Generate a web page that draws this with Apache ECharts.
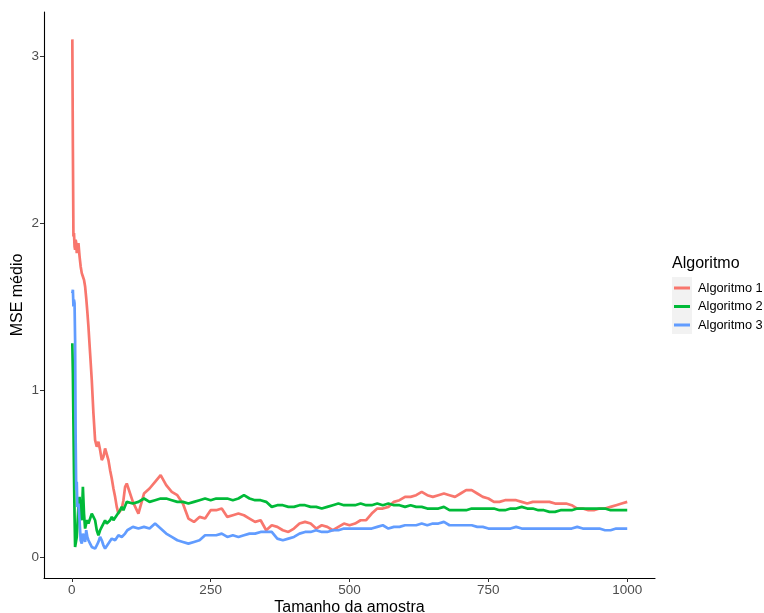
<!DOCTYPE html>
<html>
<head>
<meta charset="utf-8">
<title>MSE médio por tamanho da amostra</title>
<script src="https://cdn.jsdelivr.net/npm/echarts@6/dist/echarts.min.js"></script>
<style>
  html, body { margin: 0; padding: 0; background: #fff; }
  #chart { width: 764px; height: 613px; }
</style>
</head>
<body>
<div id="chart"></div>
<script>
// Sample sizes at which the running mean MSE was recorded
const sampleSize = [
  1, 2, 3, 4, 5, 6, 7, 8, 9, 10,
  12, 14, 16, 18, 20, 22, 24, 26, 28, 30,
  33, 36, 39, 42, 45, 48, 51, 54, 57, 60, 63, 66, 69, 72, 75, 78, 81, 84, 87, 90, 93, 96, 99,
  100, 110, 120, 130, 140, 150, 160, 170, 180, 190,
  200, 210, 220, 230, 240, 250, 260, 270, 280, 290,
  300, 310, 320, 330, 340, 350, 360, 370, 380, 390,
  400, 410, 420, 430, 440, 450, 460, 470, 480, 490,
  500, 510, 520, 530, 540, 550, 560, 570, 580, 590,
  600, 610, 620, 630, 640, 650, 660, 670, 680, 690,
  700, 710, 720, 730, 740, 750, 760, 770, 780, 790,
  800, 810, 820, 830, 840, 850, 860, 870, 880, 890,
  900, 910, 920, 930, 940, 950, 960, 970, 980, 990,
  1000
];

const algoritmo1 = [
  3.10, 2.45, 1.92, 1.94, 1.86, 1.84, 1.90, 1.88, 1.82, 1.84,
  1.88, 1.80, 1.74, 1.70, 1.68, 1.66, 1.62, 1.55, 1.47, 1.38,
  1.22, 1.06, 0.86, 0.70, 0.66, 0.69, 0.64, 0.58, 0.60, 0.65, 0.66, 0.58, 0.52, 0.47, 0.41, 0.36, 0.30, 0.26, 0.25, 0.29, 0.34, 0.42, 0.44,
  0.43, 0.33, 0.26, 0.38, 0.41, 0.45, 0.49, 0.43, 0.39, 0.37,
  0.32, 0.23, 0.21, 0.24, 0.23, 0.28, 0.28, 0.29, 0.24, 0.25,
  0.26, 0.25, 0.23, 0.21, 0.22, 0.16, 0.19, 0.18, 0.16, 0.15,
  0.17, 0.20, 0.21, 0.20, 0.17, 0.19, 0.18, 0.16, 0.18, 0.20,
  0.19, 0.20, 0.22, 0.22, 0.26, 0.29, 0.29, 0.30, 0.33, 0.34,
  0.36, 0.36, 0.37, 0.39, 0.37, 0.36, 0.37, 0.38, 0.37, 0.36,
  0.38, 0.40, 0.40, 0.38, 0.36, 0.35, 0.33, 0.33, 0.34, 0.34,
  0.34, 0.33, 0.32, 0.33, 0.33, 0.33, 0.33, 0.32, 0.32, 0.32,
  0.31, 0.29, 0.29, 0.28, 0.28, 0.29, 0.29, 0.30, 0.31, 0.32,
  0.33
];

const algoritmo2 = [
  1.28, 1.10, 0.80, 0.50, 0.25, 0.06, 0.05, 0.10, 0.12, 0.18,
  0.30, 0.36, 0.25, 0.22, 0.42, 0.26, 0.17, 0.20, 0.22, 0.20,
  0.20, 0.26, 0.24, 0.22, 0.16, 0.13, 0.16, 0.18, 0.20, 0.22, 0.20, 0.19, 0.22, 0.24, 0.22, 0.23, 0.25, 0.26, 0.28, 0.30, 0.28, 0.29, 0.33,
  0.34, 0.32, 0.33, 0.35, 0.33, 0.34, 0.35, 0.35, 0.34, 0.33,
  0.33, 0.32, 0.33, 0.34, 0.35, 0.34, 0.35, 0.35, 0.35, 0.34,
  0.35, 0.37, 0.35, 0.34, 0.34, 0.33, 0.30, 0.31, 0.31, 0.30,
  0.30, 0.31, 0.31, 0.30, 0.30, 0.29, 0.30, 0.31, 0.32, 0.31,
  0.31, 0.31, 0.32, 0.31, 0.31, 0.32, 0.31, 0.32, 0.31, 0.31,
  0.30, 0.31, 0.30, 0.30, 0.29, 0.29, 0.29, 0.30, 0.28, 0.28,
  0.28, 0.28, 0.29, 0.29, 0.29, 0.29, 0.29, 0.28, 0.28, 0.29,
  0.29, 0.30, 0.29, 0.29, 0.28, 0.28, 0.27, 0.27, 0.28, 0.28,
  0.28, 0.29, 0.29, 0.29, 0.29, 0.29, 0.29, 0.28, 0.28, 0.28,
  0.28
];

const algoritmo3 = [
  1.58, 1.60, 1.50, 1.54, 1.52, 1.30, 0.70, 0.40, 0.45, 0.30,
  0.32, 0.22, 0.10, 0.08, 0.14, 0.12, 0.09, 0.16, 0.12, 0.10,
  0.08, 0.06, 0.05, 0.05, 0.07, 0.09, 0.12, 0.10, 0.07, 0.05, 0.06, 0.08, 0.09, 0.11, 0.11, 0.10, 0.11, 0.13, 0.13, 0.12, 0.11, 0.14, 0.15,
  0.16, 0.18, 0.17, 0.18, 0.17, 0.20, 0.17, 0.14, 0.12, 0.10,
  0.09, 0.08, 0.09, 0.10, 0.13, 0.13, 0.13, 0.14, 0.12, 0.13,
  0.12, 0.13, 0.14, 0.14, 0.15, 0.15, 0.15, 0.11, 0.10, 0.11,
  0.12, 0.14, 0.15, 0.15, 0.16, 0.15, 0.15, 0.16, 0.16, 0.17,
  0.17, 0.17, 0.17, 0.17, 0.17, 0.18, 0.19, 0.17, 0.18, 0.18,
  0.19, 0.19, 0.19, 0.20, 0.19, 0.20, 0.20, 0.21, 0.19, 0.19,
  0.19, 0.19, 0.19, 0.18, 0.18, 0.17, 0.17, 0.17, 0.17, 0.17,
  0.18, 0.17, 0.17, 0.17, 0.17, 0.17, 0.17, 0.17, 0.17, 0.17,
  0.17, 0.18, 0.17, 0.17, 0.17, 0.17, 0.16, 0.16, 0.17, 0.17,
  0.17
];

const seriesNames = ['Algoritmo 1', 'Algoritmo 2', 'Algoritmo 3'];
const seriesValues = [algoritmo1, algoritmo2, algoritmo3];
const seriesColors = ['#F8766D', '#00BA38', '#619CFF'];
const xTicks = [0, 250, 500, 750, 1000];
const yTicks = [0, 1, 2, 3];

const FONT = '"Liberation Sans", Arial, sans-serif';

const chart = echarts.init(document.getElementById('chart'), null, { renderer: 'canvas' });

const series = seriesNames.map((name, i) => ({
  name: name,
  type: 'line',
  data: sampleSize.map((n, k) => [n, seriesValues[i][k]]),
  showSymbol: false,
  symbol: 'none',
  smooth: false,
  lineStyle: { color: seriesColors[i], width: 2.7 },
  itemStyle: { color: seriesColors[i] },
  emphasis: { disabled: true },
  animation: false
}));

chart.setOption({
  backgroundColor: '#ffffff',
  animation: false,
  textStyle: { fontFamily: FONT },
  grid: { left: 44, right: 109, top: 12, bottom: 35, containLabel: false, outerBoundsMode: 'none' },
  xAxis: {
    type: 'value',
    min: -50,
    max: 1050,
    name: 'Tamanho da amostra',
    nameLocation: 'middle',
    nameGap: 22,
    nameMoveOverlap: false,
    nameTextStyle: { fontSize: 16, color: '#000', fontFamily: FONT },
    axisLine: { show: true, onZero: false, lineStyle: { color: '#000', width: 1.1 } },
    axisTick: { show: true, customValues: xTicks, length: 4, lineStyle: { color: '#333', width: 1 } },
    axisLabel: {
      customValues: xTicks, color: '#4d4d4d', fontSize: 13.5, margin: 5, fontFamily: FONT,
      formatter: v => String(v)
    },
    splitLine: { show: false }
  },
  yAxis: {
    type: 'value',
    min: -0.126,
    max: 3.264,
    name: 'MSE médio',
    nameLocation: 'middle',
    nameGap: 18,
    nameMoveOverlap: false,
    nameTextStyle: { fontSize: 16, color: '#000', fontFamily: FONT },
    axisLine: { show: true, onZero: false, lineStyle: { color: '#000', width: 1.1 } },
    axisTick: { show: true, customValues: yTicks, length: 4, lineStyle: { color: '#333', width: 1 } },
    axisLabel: {
      customValues: yTicks, color: '#4d4d4d', fontSize: 13.5, margin: 5, fontFamily: FONT,
      formatter: v => String(v)
    },
    splitLine: { show: false }
  },
  legend: {
    orient: 'vertical',
    left: 674,
    top: 281,
    padding: 0,
    icon: 'rect',
    itemWidth: 16,
    itemHeight: 3,
    itemGap: 4.5,
    selectedMode: false,
    data: seriesNames,
    textStyle: { fontSize: 12.8, color: '#000', lineHeight: 14, fontFamily: FONT, padding: [0, 0, 0, 3] }
  },
  graphic: [
    {
      type: 'rect',
      left: 672,
      top: 277,
      shape: { width: 20, height: 57 },
      style: { fill: '#f2f2f2' },
      z: -1,
      silent: true
    },
    {
      type: 'text',
      left: 672,
      top: 256,
      style: { text: 'Algoritmo', fontSize: 16, fill: '#000', fontFamily: FONT },
      silent: true
    }
  ],
  series: series
});
</script>
</body>
</html>
